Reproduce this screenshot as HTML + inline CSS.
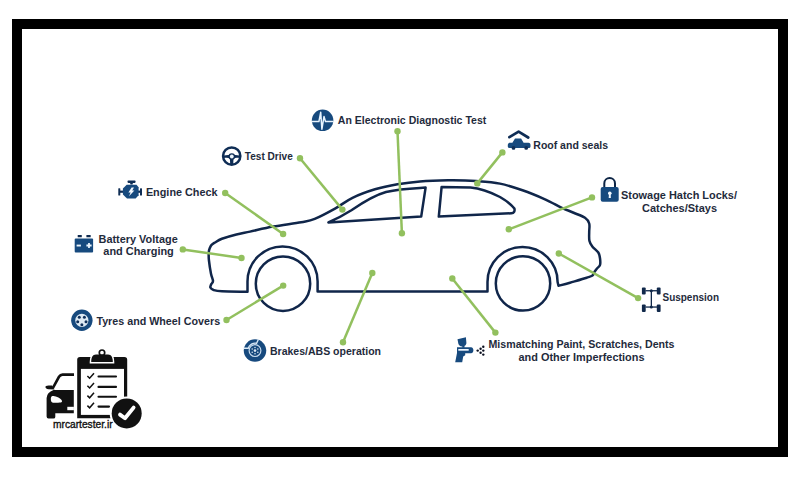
<!DOCTYPE html>
<html><head><meta charset="utf-8">
<style>
html,body{margin:0;padding:0;background:#fff;width:800px;height:480px;overflow:hidden}
svg{display:block}
.t text{font-family:"Liberation Sans",sans-serif;font-weight:bold;font-size:11px;fill:#1f2b3c}
</style></head><body>
<svg width="800" height="480" viewBox="0 0 800 480">
<rect x="17" y="24" width="766" height="428" fill="#fff" stroke="#000" stroke-width="10"/>
<g fill="none" stroke="#10264a" stroke-width="2.5" stroke-linejoin="round" stroke-linecap="round">
<path d="M246.6,291.8 C242.5,291.7 227.5,291.6 222.0,291.3 C216.5,291.0 215.5,290.6 213.6,290.0 C211.7,289.4 210.8,288.5 210.4,287.6 C210.0,286.7 210.6,285.8 211.0,284.7 C211.4,283.6 213.0,282.8 213.0,281.0 C213.0,279.2 211.7,277.2 211.0,273.7 C210.3,270.2 209.3,263.6 208.9,260.0 C208.5,256.4 208.7,254.0 208.8,252.0 C209.0,250.0 209.3,249.2 209.8,248.0 C210.3,246.8 210.7,245.7 211.6,244.8 C212.5,243.9 213.3,243.5 215.0,242.5 C216.7,241.5 218.3,240.1 221.9,238.8 C225.5,237.5 231.7,235.7 236.4,234.5 C241.1,233.3 243.9,232.9 250.0,231.6 C256.1,230.3 264.6,228.2 273.1,226.6 C281.6,225.0 294.3,223.5 301.2,222.2 C308.1,220.9 309.1,221.2 314.7,218.9 C320.3,216.6 328.7,212.1 335.0,208.6 C341.3,205.1 345.8,201.0 352.5,197.8 C359.2,194.6 367.5,191.6 375.0,189.3 C382.5,187.1 390.0,185.6 397.5,184.3 C405.0,183.0 411.6,182.1 420.0,181.4 C428.4,180.7 438.6,180.4 448.0,180.3 C457.4,180.2 467.5,180.4 476.2,181.0 C484.9,181.6 492.3,182.0 500.0,183.6 C507.7,185.2 515.0,187.7 522.5,190.3 C530.0,192.9 538.4,196.4 545.0,199.3 C551.6,202.2 557.2,205.6 561.9,207.8 C566.6,210.0 569.1,210.8 573.0,212.5 C576.9,214.2 582.3,215.9 585.0,217.7 C587.7,219.5 588.5,221.2 589.2,223.5 C589.9,225.8 589.2,228.8 589.2,231.7 C589.2,234.6 588.9,238.3 589.4,240.8 C589.9,243.3 591.0,244.8 592.5,246.7 C594.0,248.6 597.0,250.6 598.3,252.5 C599.5,254.4 599.7,256.2 600.0,258.3 C600.3,260.4 600.5,263.3 600.0,265.0 C599.5,266.7 598.0,267.3 597.0,268.5 C596.0,269.7 595.0,271.1 594.2,272.3 C593.5,273.5 593.8,274.6 592.5,275.5 C591.2,276.4 590.5,276.5 586.7,277.7 C583.0,278.9 574.7,281.3 570.0,282.7 C565.3,284.1 560.4,285.3 558.5,285.8 L557.6,282 A35.05,35.05 0 0 0 487.5,282 L487.5,291.6 L317.6,291.6 L317.6,281.5 A35.05,35.05 0 0 0 247.5,281.5 L247.5,291.8 Z"/>
<path d="M328.4,222.4 L421.2,216.6 L425.6,187.6 L420,188 C405,188.8 397,189.5 386,192 C375,195 362,203 351.4,210.2 C343,215.5 335,219.5 328.4,222.4 Z"/>
<path d="M441.6,187 L470.6,187.6 C480,188.5 490,192 500,197 C506,200.5 511,204 514.4,208.6 C515,211 514,213.2 511.5,213.3 L438.8,216.6 Z"/>
<circle cx="283" cy="283.7" r="27.2"/>
<circle cx="523" cy="283.4" r="27.2"/>
</g>
<g stroke="#92c05e" stroke-width="2.5"><line x1="225.2" y1="193" x2="283.1" y2="234"/><line x1="300" y1="158.3" x2="342.4" y2="209.6"/><line x1="397.5" y1="131.3" x2="401.9" y2="233.3"/><line x1="502.4" y1="152.4" x2="477.3" y2="183.4"/><line x1="592" y1="197.4" x2="508.8" y2="229.3"/><line x1="638.1" y1="298.1" x2="558.8" y2="253.5"/><line x1="495.4" y1="332.6" x2="452.3" y2="278.5"/><line x1="343" y1="342.2" x2="372.3" y2="273"/><line x1="226.5" y1="320" x2="283.2" y2="285.6"/><line x1="182.8" y1="249.4" x2="241.5" y2="258"/></g>
<g fill="#92c05e"><circle cx="225.2" cy="193" r="3.2"/><circle cx="283.1" cy="234" r="3.2"/><circle cx="300" cy="158.3" r="3.2"/><circle cx="342.4" cy="209.6" r="3.2"/><circle cx="397.5" cy="131.3" r="3.2"/><circle cx="401.9" cy="233.3" r="3.2"/><circle cx="502.4" cy="152.4" r="3.2"/><circle cx="477.3" cy="183.4" r="3.2"/><circle cx="592" cy="197.4" r="3.2"/><circle cx="508.8" cy="229.3" r="3.2"/><circle cx="638.1" cy="298.1" r="3.2"/><circle cx="558.8" cy="253.5" r="3.2"/><circle cx="495.4" cy="332.6" r="3.2"/><circle cx="452.3" cy="278.5" r="3.2"/><circle cx="343" cy="342.2" r="3.2"/><circle cx="372.3" cy="273" r="3.2"/><circle cx="226.5" cy="320" r="3.2"/><circle cx="283.2" cy="285.6" r="3.2"/><circle cx="182.8" cy="249.4" r="3.2"/><circle cx="241.5" cy="258" r="3.2"/></g>

<!-- electronic diag -->
<circle cx="322.6" cy="120.3" r="10.75" fill="#174a7e"/>
<path d="M311.6,121.6 L318.9,121.6 L320.7,112.3 L321.9,129.2 L324,116.5 L325.5,121.6 L333.6,121.6" fill="none" stroke="#e8f4ff" stroke-width="1.5" stroke-linejoin="round"/>
<!-- steering wheel -->
<circle cx="231.7" cy="156.1" r="8.65" fill="none" stroke="#0f2d55" stroke-width="2.5"/>
<path d="M223.5,155.6 C226.5,154.6 229,155 231.7,155 C234.4,155 237,154.6 240,155.6 L240,158 C237,157.5 235,157.5 233.5,158.5 L233.2,164.5 L230.2,164.5 L229.9,158.5 C228.4,157.5 226.4,157.5 223.5,158 Z" fill="#0f2d55"/>
<circle cx="231.8" cy="156.5" r="3.3" fill="#0f2d55"/>
<circle cx="231.8" cy="156.5" r="1.9" fill="#eef6fc"/>
<!-- engine -->
<g fill="#0f2d55">
<rect x="127.5" y="180.6" width="8.1" height="2.3" rx=".8"/>
<path d="M130,182.8 L133,182.8 L132.5,184.6 L130.5,184.6 Z"/>
<rect x="118.3" y="188.2" width="2" height="7.3" rx=".6"/>
<rect x="140" y="188.2" width="2" height="7.3" rx=".6"/>
<rect x="120" y="190.6" width="3.5" height="2.2"/>
<rect x="138" y="190.6" width="2.5" height="2.2"/>
</g>
<path d="M126.7,184.7 L136.5,184.7 L138.6,187.3 L138.6,195.3 L135.6,198.5 L127,198.5 L122.9,194.5 L122.9,188.5 Z" fill="#174a7e"/>
<path d="M131.6,187.4 L134,187.4 L132.2,190.6 L134.4,190.6 L129,196.2 L130.6,192.6 L128.4,192.6 Z" fill="#f4f9ff"/>
<!-- battery -->
<rect x="74.7" y="238.4" width="18.4" height="14.1" rx="1" fill="#174a7e"/>
<rect x="77.7" y="235.1" width="4.1" height="2.1" rx=".5" fill="#0f2a4f"/>
<rect x="86.4" y="235.1" width="4.3" height="2.1" rx=".5" fill="#0f2a4f"/>
<rect x="76.6" y="244.6" width="4.3" height="1.9" fill="#eaf4fc"/>
<path d="M88.1,243 L89.9,243 L89.9,244.6 L91.6,244.6 L91.6,246.4 L89.9,246.4 L89.9,248 L88.1,248 L88.1,246.4 L86.4,246.4 L86.4,244.6 L88.1,244.6 Z" fill="#eaf4fc"/>
<!-- tyre -->
<circle cx="81.85" cy="320.3" r="10.7" fill="#174a7e"/>
<circle cx="81.85" cy="320.3" r="6.6" fill="#dde9f3"/>
<g fill="#10305a">
<circle cx="79.3" cy="317.2" r="1.5"/>
<circle cx="84.4" cy="317.2" r="1.5"/>
<circle cx="86" cy="321.8" r="1.5"/>
<circle cx="81.85" cy="324.8" r="1.5"/>
<circle cx="77.7" cy="321.8" r="1.5"/>
</g>
<!-- brakes -->
<circle cx="255" cy="350.6" r="11.25" fill="#174a7e"/>
<path d="M243.5,348.2 L248.2,348.2 A7.3,7.3 0 0 1 256.6,343.3 L258.6,339" fill="none" stroke="#d8e8f6" stroke-width="1.4"/>
<circle cx="255" cy="350.6" r="5.9" fill="none" stroke="#c8dcef" stroke-width="1.2"/>
<g fill="#dde9f3"><circle cx="255" cy="350.6" r="1.3"/><circle cx="255" cy="347.4" r=".75"/><circle cx="257.8" cy="349" r=".75"/><circle cx="257.8" cy="352.2" r=".75"/><circle cx="255" cy="353.8" r=".75"/><circle cx="252.2" cy="352.2" r=".75"/><circle cx="252.2" cy="349" r=".75"/></g>
<!-- spray gun -->
<g fill="#174a7e">
<path d="M457.5,339.2 L465.9,337.2 L466.4,343 C466.4,345.5 464,346.5 462,346.5 C460,346.5 458.5,345 458.3,343.5 Z"/>
<rect x="462.3" y="346" width="2.2" height="1.8"/>
<path d="M457,347.3 L471,347.3 C474.2,347.3 474.2,353.3 471,353.3 L457,353.3 Z"/>
<path d="M457,353 L465.2,353 L465.2,355.2 L463.2,356.5 L462.2,362.2 L455.2,362.2 Z"/>
</g>
<rect x="458.3" y="349" width="10.4" height="1.7" fill="#eef6ff"/>
<g fill="#0b1020"><circle cx="483.3" cy="346.7" r="1.2"/><circle cx="480.6" cy="348.75" r="1.2"/><circle cx="477.7" cy="350.6" r="1.2"/><circle cx="480.6" cy="352.7" r="1.2"/><circle cx="483.3" cy="354.6" r="1.2"/><circle cx="483.3" cy="350.6" r="1.2"/></g>
<!-- roof -->
<path d="M509.4,137.2 L518.6,131.6 L528.2,137.5" fill="none" stroke="#0f2d55" stroke-width="2.7" stroke-linecap="round" stroke-linejoin="round"/>
<path d="M515,138.4 L521.1,138.4 L523.6,142.7 L528.5,142.7 C530,142.7 530.5,144 530.5,145 L530.5,146.5 C530.5,147.5 529.5,148 528.5,148 L509.5,148 C508.5,148 507.8,147.3 507.8,146.5 L507.8,145 C507.8,143.8 508.5,142.7 510,142.7 L512.4,142.7 Z" fill="#174a7e"/>
<circle cx="513.5" cy="147.9" r="1.9" fill="#0f2d55"/><circle cx="526.2" cy="147.9" r="1.9" fill="#0f2d55"/>
<!-- lock -->
<path d="M604.3,187.5 L604.3,183.5 C604.3,176.3 615,176.3 615,183.5 L615,187.5" fill="none" stroke="#0d2545" stroke-width="2"/>
<rect x="600.7" y="187" width="18" height="14.7" rx="2" fill="#174a7e"/>
<circle cx="609.8" cy="193.3" r="1.8" fill="#f2f8ff"/><path d="M608.9,194 L610.7,194 L610.9,198 L608.7,198 Z" fill="#f2f8ff"/>
<!-- suspension -->
<g fill="#10284a">
<rect x="641.9" y="287.5" width="3.8" height="6.9" rx="1"/>
<rect x="656.8" y="287.5" width="3.8" height="6.9" rx="1"/>
<rect x="641.9" y="304.4" width="3.8" height="7.5" rx="1"/>
<rect x="656.8" y="304.4" width="3.8" height="7.5" rx="1"/>
<rect x="645.5" y="290.1" width="11.5" height="1.3"/>
<rect x="645.5" y="306.4" width="11.5" height="1.3"/>
<rect x="650.7" y="291" width="1.3" height="16"/>
<circle cx="651.3" cy="290.8" r="1.5"/><circle cx="651.3" cy="307" r="1.5"/>
</g>

<g class="t">
<text x="337.8" y="124" textLength="148.5" lengthAdjust="spacingAndGlyphs">An Electronic Diagnostic Test</text>
<text x="244.8" y="159.8" textLength="48.0" lengthAdjust="spacingAndGlyphs">Test Drive</text>
<text x="145.9" y="195.5" textLength="71.7" lengthAdjust="spacingAndGlyphs">Engine Check</text>
<text x="98.5" y="242.7" textLength="79.2" lengthAdjust="spacingAndGlyphs">Battery Voltage</text>
<text x="103.3" y="254.7" textLength="70.5" lengthAdjust="spacingAndGlyphs">and Charging</text>
<text x="96.4" y="325.2" textLength="123.7" lengthAdjust="spacingAndGlyphs">Tyres and Wheel Covers</text>
<text x="270" y="354.6" textLength="111.0" lengthAdjust="spacingAndGlyphs">Brakes/ABS operation</text>
<text x="488.5" y="348.4" textLength="186.0" lengthAdjust="spacingAndGlyphs">Mismatching Paint, Scratches, Dents</text>
<text x="518.5" y="360.7" textLength="126.0" lengthAdjust="spacingAndGlyphs">and Other Imperfections</text>
<text x="533.3" y="148.5" textLength="74.7" lengthAdjust="spacingAndGlyphs">Roof and seals</text>
<text x="621" y="199" textLength="116.0" lengthAdjust="spacingAndGlyphs">Stowage Hatch Locks/</text>
<text x="642" y="212" textLength="75.0" lengthAdjust="spacingAndGlyphs">Catches/Stays</text>
<text x="662.5" y="300.6" textLength="56.5" lengthAdjust="spacingAndGlyphs">Suspension</text>

</g>

<g fill="#111">
<path d="M53.5,390 L73.8,390 L73.8,413.3 L55.3,413.3 L55.3,417 Q55.3,418.6 53.5,418.6 L48.5,418.6 Q46.6,418.6 46.6,416.5 L46.6,398 Q46.8,392.5 53.5,390 Z"/>
<path d="M45.5,386.5 C46,385.5 50,385.3 52,385.6 L54.5,389.5 L48.5,389.2 C46.5,389 45,387.8 45.5,386.5 Z"/>
</g>
<path d="M74,374.6 L62.5,374.6 Q60.5,374.6 59,376.8 L52.8,388.2" fill="none" stroke="#111" stroke-width="2.6"/>
<path d="M50.8,398.8 C50.8,396 52.5,395.9 54.5,396.2 C58,396.8 62,399 62,401.3 C62,402.6 60.5,402.7 58,402.7 L53,402.7 C51.3,402.7 50.8,400.8 50.8,398.8 Z" fill="#fff"/>
<rect x="67.3" y="406.8" width="6.6" height="3.4" fill="#fff"/>
<path d="M80,357 L124.4,357 Q127.2,357 127.2,359.8 L127.2,418.3 L77.2,418.3 L77.2,359.8 Q77.2,357 80,357 Z" fill="#111"/>
<rect x="80.9" y="368.9" width="43.1" height="46" fill="#fff"/>
<path d="M91.2,362 C91.2,357.5 92.5,354.5 96,354.5 L108,354.5 C111.5,354.5 112.8,357.5 112.8,362 Z" fill="#111" stroke="#fff" stroke-width="3" paint-order="stroke"/>
<circle cx="102" cy="352.7" r="2.7" fill="none" stroke="#111" stroke-width="1.7"/>
<g fill="none" stroke="#111" stroke-width="1.5">
<path d="M87.4,376 L89.6,378.2 L94,373.2"/>
<path d="M87.4,385.8 L89.6,388 L94,383"/>
<path d="M87.4,395.6 L89.6,397.8 L94,392.8"/>
<path d="M87.4,405.6 L89.6,407.8 L94,402.8"/>
</g>
<g stroke="#111" stroke-width="2.1" stroke-linecap="round">
<line x1="98.5" y1="376.5" x2="116" y2="376.5"/>
<line x1="98.5" y1="386.9" x2="116" y2="386.9"/>
<line x1="98.5" y1="396.7" x2="116" y2="396.7"/>
<line x1="98.5" y1="406.6" x2="109" y2="406.6"/>
</g>
<circle cx="126.7" cy="413.4" r="17" fill="#fff"/>
<circle cx="126.7" cy="413.4" r="15" fill="#111"/>
<path d="M120,414.6 L125,418.3 L133.6,407.6" fill="none" stroke="#fff" stroke-width="3.8" stroke-linecap="round" stroke-linejoin="round"/>
<text x="53" y="427.5" textLength="59.6" lengthAdjust="spacingAndGlyphs" style="font-family:'Liberation Sans',sans-serif;font-size:10.5px;fill:#111;stroke:#111;stroke-width:0.35">mrcartester.ir</text>

</svg>
</body></html>
